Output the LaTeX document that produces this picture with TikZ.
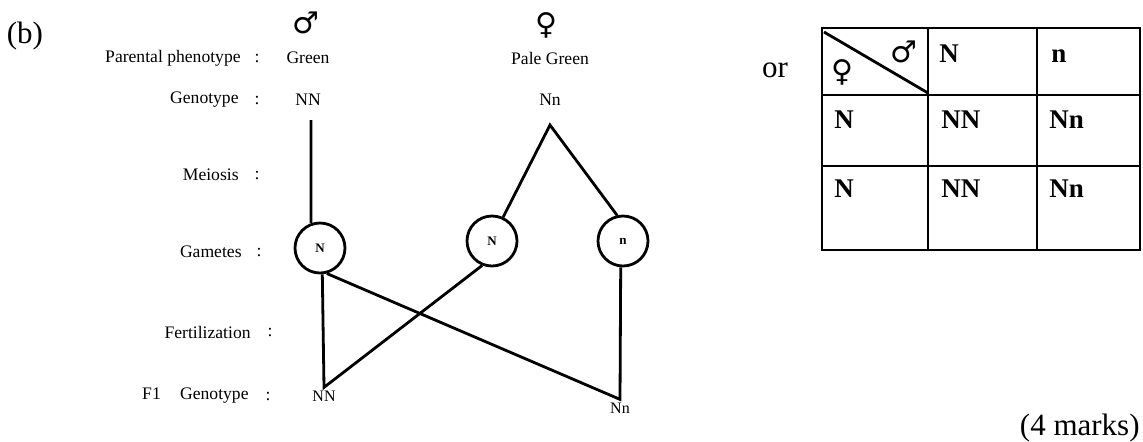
\documentclass[tikz,border=0pt]{standalone}
\usepackage{fontspec}
\setmainfont{Liberation Serif}
\newfontfamily\symfont{DejaVu Sans}
\usetikzlibrary{positioning}

\begin{document}
\begin{tikzpicture}[x=0.5pt, y=-0.5pt, line width=1.4pt,
    txt/.style={inner sep=0pt, font=\fontsize{8.8}{10}\selectfont},
    lbl/.style={txt, anchor=east},
    offspring/.style={inner sep=1pt, font=\fontsize{8}{9}\selectfont},
    sex/.style={inner sep=0pt, font=\symfont\fontsize{15}{17}\selectfont},
    gamete/.style={circle, draw, minimum size=25pt, inner sep=0pt,
      font=\fontsize{6.5}{7}\selectfont\bfseries},
    cell/.style={anchor=base west, inner sep=0pt, font=\fontsize{13.5}{16}\selectfont\bfseries},
    big/.style={inner sep=0pt, font=\fontsize{15.5}{18}\selectfont}]
  \useasboundingbox (0,0) rectangle (1143,441);

  \node[big] (part) at (25,36) {(b)};

  % row labels
  \node[lbl] (lphen) at (242,58) {Parental phenotype};
  \node[lbl] (lgeno) at (240,100) {Genotype};
  \node[lbl] (lmei) at (240,175) {Meiosis};
  \node[lbl] (lgam) at (243,252) {Gametes};
  \node[lbl] (lfert) at (252,332) {Fertilization};
  \node[lbl] (lf1) at (250,396) {F1\hspace{1.1em}Genotype};
  \node[txt] (cphen) at (257,58) {:};
  \node[txt] (cgeno) at (257,100) {:};
  \node[txt] (cmei) at (257,175) {:};
  \node[txt] (cgam) at (259,252) {:};
  \node[txt] (cfert) at (270,332) {:};
  \node[txt] (cf1) at (268,396) {:};

  % parents
  \node[sex] (male) at (306,23) {♂};
  \node[txt] (mphen) at (308,58) {Green};
  \node[txt] (mgeno) at (308,100) {NN};
  \node[sex] (female) at (546,25) {♀};
  \node[txt] (fphen) at (550,58) {Pale Green};
  \node[txt] (fgeno) at (550,100) {Nn};

  % gametes
  \node[gamete] (mg) at (320,248) {N};
  \node[gamete] (fg1) at (492,241) {N};
  \node[gamete] (fg2) at (623,241) {n};
  \coordinate (mtop) at (311,120);
  \coordinate (ftop) at (550,125);
  \draw (mtop) -- (mg.110);
  \draw (fg1.65) -- (ftop) -- (fg2.103);

  % offspring
  \node[offspring] (oNN) at (324,396) {NN};
  \node[offspring] (oNn) at (620,408) {Nn};
  \draw (mg.-85) -- (oNN.north) -- (fg1.-112);
  \draw (mg.-75) -- (oNn.north) -- (fg2.-95);

  % punnett square
  \node[big] (alt) at (775,70) {or};
  \draw (822,28) rectangle (1140,250);
  \draw (928,28) -- (928,250);
  \draw (1037,28) -- (1037,250);
  \draw (822,95) -- (1140,95);
  \draw (822,166) -- (1140,166);
  \draw (824,32) -- (928,93);
  \node[sex] (tmale) at (904,52) {♂};
  \node[sex] (tfemale) at (842,72) {♀};
  \node[cell] (hN) at (938,62) {N};
  \node[cell] (hn) at (1050,62) {n};
  \node[cell] (r1) at (833,128) {N};
  \node[cell] (r1a) at (940,128) {NN};
  \node[cell] (r1b) at (1048,128) {Nn};
  \node[cell] (r2) at (833,197) {N};
  \node[cell] (r2a) at (940,197) {NN};
  \node[cell] (r2b) at (1048,197) {Nn};

  \node[big, anchor=east] (marks) at (1141,428) {(4 marks)};
\end{tikzpicture}
\end{document}
